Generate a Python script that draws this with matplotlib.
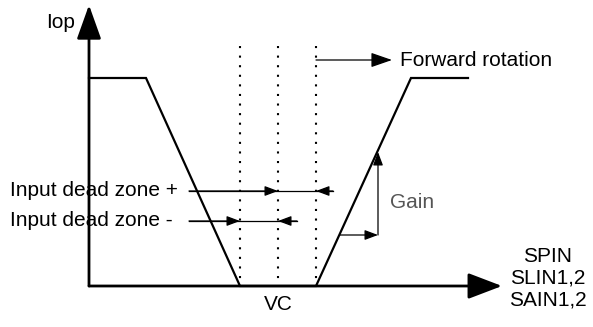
import matplotlib.pyplot as plt

plt.rcParams['font.family'] = ['Liberation Sans', 'DejaVu Sans']

# diagram coordinates (pixel-like units, y grows downward)
axis_origin = (89, 286)
y_axis_top = 5
x_axis_end = 502

# Iop characteristic: reverse plateau, dead zone, forward plateau
curve_x = [89, 146, 240, 316, 411, 468]
curve_y = [78, 78, 286, 286, 78, 78]

# dotted guide lines (dead zone edges and VC)
guide_x = [240, 278, 316]
guide_top = 46

# dead zone arrows: (y, line start, line end, [(from, to), ...])
dz_plus = (191, 189, 333, [(189, 278), (333, 316)])
dz_minus = (221, 189, 297, [(189, 240), (297, 278)])

# forward rotation arrow
fwd_y = 60
fwd_x = (316, 392)

# gain triangle
gain_x = (340, 378)
gain_y = (235, 152)

fig = plt.figure(figsize=(5.93, 3.27), dpi=100)
ax = fig.add_axes([0, 0, 1, 1])
ax.set_xlim(0, 593)
ax.set_ylim(327, 0)
ax.axis('off')

# axes with big arrow heads
ax.annotate('', xy=(axis_origin[0], y_axis_top), xytext=axis_origin,
            arrowprops=dict(arrowstyle='-|>,head_length=2.1,head_width=0.75',
                            mutation_scale=10, lw=2, color='black',
                            shrinkA=0, shrinkB=0))
ax.annotate('', xy=(x_axis_end, axis_origin[1]), xytext=axis_origin,
            arrowprops=dict(arrowstyle='-|>,head_length=2.1,head_width=0.8',
                            mutation_scale=10, lw=2, color='black',
                            shrinkA=0, shrinkB=0))

# characteristic
ax.plot(curve_x, curve_y, color='black', lw=1.6, solid_joinstyle='miter')

# dotted lines
for gx in guide_x:
    ax.plot([gx, gx], [guide_top, axis_origin[1]], color='black', lw=1.5,
            linestyle=(0, (1, 3.6)), dash_capstyle='butt')

small = dict(arrowstyle='-|>,head_length=0.8,head_width=0.3',
             mutation_scale=10, lw=0.9, color='black', shrinkA=0, shrinkB=0)

for y, x0, x1, heads in [dz_plus, dz_minus]:
    ax.plot([x0, x1], [y, y], color='black', lw=0.9)
    for a, b in heads:
        ax.annotate('', xy=(b, y), xytext=(a, y), arrowprops=small)

# forward rotation
ax.annotate('', xy=(fwd_x[1], fwd_y), xytext=(fwd_x[0], fwd_y),
            arrowprops=dict(arrowstyle='-|>,head_length=1.3,head_width=0.45',
                            mutation_scale=10, lw=0.9, color='black',
                            shrinkA=0, shrinkB=0))

# gain
ax.annotate('', xy=(gain_x[1], gain_y[0]), xytext=(gain_x[0], gain_y[0]),
            arrowprops=small)
ax.annotate('', xy=(gain_x[1], gain_y[1]), xytext=(gain_x[1], gain_y[0]),
            arrowprops=small)

fs = 15
ax.text(75, 22, 'Iop', fontsize=fs, ha='right', va='center')
ax.text(400, 60, 'Forward rotation', fontsize=fs, ha='left', va='center')
ax.text(10, 191, 'Input dead zone +', fontsize=fs, ha='left', va='center')
ax.text(10, 221, 'Input dead zone -', fontsize=fs, ha='left', va='center')
ax.text(390, 202, 'Gain', fontsize=fs, ha='left', va='center', color='#555555')
ax.text(278, 305, 'VC', fontsize=fs, ha='center', va='center')
ax.text(548, 278, 'SPIN\nSLIN1,2\nSAIN1,2', fontsize=fs, ha='center',
        va='center', linespacing=1.2)

fig.savefig('out.png', dpi=100)
